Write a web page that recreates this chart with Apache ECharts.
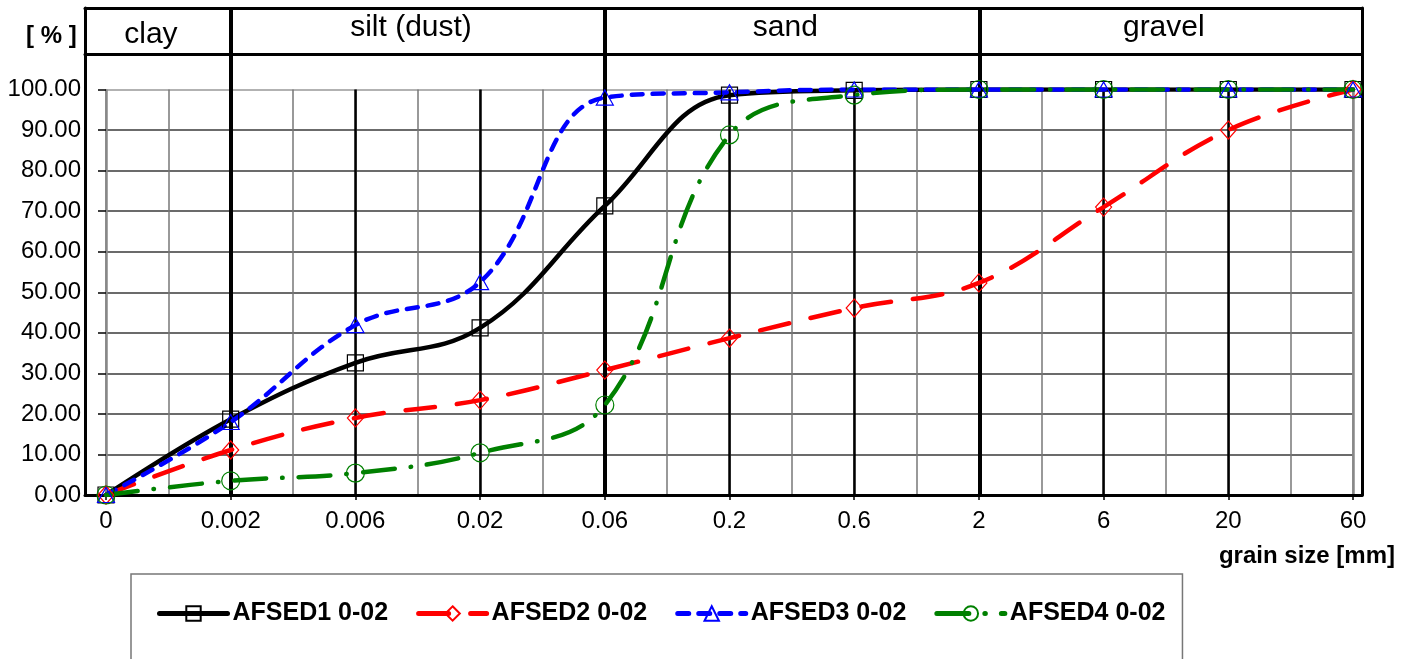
<!DOCTYPE html>
<html lang="en">
<head>
    <meta charset="UTF-8">
    <script src="https://cdn.jsdelivr.net/npm/echarts@6/dist/echarts.min.js"></script>
    <style>
        html, body { margin: 0; padding: 0; background: #fff; }
        #chart { width: 1420px; height: 659px; }
    </style>
</head>
<body>
<div id="chart"></div>
<script>
    // grain sizes [mm] on the x axis (equally spaced categories)
    var sizes = ['0', '0.002', '0.006', '0.02', '0.06', '0.2', '0.6', '2', '6', '20', '60'];
    // passing percentages
    var afsed1 = [0, 18.7, 32.6, 41.2, 71.3, 98.6, 99.8, 100, 100, 100, 100];
    var afsed2 = [0, 11.1, 19.0, 23.4, 30.8, 38.7, 46.1, 52.3, 71.0, 90.0, 100];
    var afsed3 = [0, 18.0, 41.9, 52.5, 98.0, 99.3, 100, 100, 100, 100, 100];
    var afsed4 = [0, 3.5, 5.4, 10.4, 22.2, 88.8, 98.6, 100, 100, 100, 100];
    // soil classes and the sizes where they meet
    var zones = ['clay', 'silt (dust)', 'sand', 'gravel'];
    var zoneBounds = ['0.002', '0.06', '2'];

    var font = 'Liberation Sans, Arial, sans-serif';
    // frame runs a bit past the first / last category
    var xMin = -0.168, xMax = 10.064;

    var chart = echarts.init(document.getElementById('chart'));

    var boundIdx = zoneBounds.map(function (b) { return sizes.indexOf(b); });
    var edges = [xMin].concat(boundIdx, [xMax]);
    var zoneData = zones.map(function (z, i) {
        return {
            name: z,
            value: [(edges[i] + edges[i + 1]) / 2, 0.5],
            label: { offset: [-7, i === 0 ? 4 : -3] }
        };
    });

    var frameLine = { show: true, onZero: false, lineStyle: { color: '#000', width: 3 } };
    function frameAxis(grid, pos, type) {
        return {
            type: 'value', gridIndex: grid, position: pos,
            min: type === 'x' ? xMin : 0, max: type === 'x' ? xMax : 1,
            axisLine: frameLine, axisTick: { show: false }, axisLabel: { show: false },
            splitLine: { show: false }
        };
    }

    var catColors = sizes.map(function (s, i) {
        return (i === 0 || i === sizes.length - 1) ? '#888' : '#000';
    });
    var hColors = sizes.map(function (s, i) {
        return i === 0 ? '#000' : (i === sizes.length - 1 ? '#999' : '#3a3a3a');
    });

    function lineSeries(name, data, color, dash, symbol, size) {
        return {
            name: name, type: 'line', xAxisIndex: 4, yAxisIndex: 3,
            data: data, smooth: 0.4, z: 5,
            symbol: symbol, symbolSize: size,
            lineStyle: { color: color, width: 4.5, type: dash, cap: 'round' },
            itemStyle: { color: 'rgba(0,0,0,0)', borderColor: color, borderWidth: 1.2 }
        };
    }

    var option = {
        animation: false,
        title: [
            { text: '[ % ]', left: 21, top: 19, textStyle: { fontFamily: font, fontSize: 24, fontWeight: 'bold', color: '#000' } },
            { text: 'grain size [mm]', right: 20, top: 539, textStyle: { fontFamily: font, fontSize: 24, fontWeight: 'bold', color: '#000' } }
        ],
        legend: {
            left: 131, top: 574,
            padding: [27, 17, 60, 26],
            borderColor: '#777', borderWidth: 1.5,
            itemWidth: 68, itemHeight: 18, itemGap: 28,
            lineStyle: { width: 5 },
            textStyle: { fontFamily: font, fontSize: 25, fontWeight: 'bold', color: '#000' },
            data: ['AFSED1 0-02', 'AFSED2 0-02', 'AFSED3 0-02', 'AFSED4 0-02']
        },
        grid: [
            { left: 85, right: 58, top: 8, bottom: 164 },
            { left: 85, right: 58, top: 8, height: 46 },
            { left: 106, right: 67, top: 89.5, bottom: 164 }
        ],
        xAxis: [
            frameAxis(0, 'bottom', 'x'),
            frameAxis(0, 'top', 'x'),
            frameAxis(1, 'bottom', 'x'),
            {
                type: 'value', gridIndex: 2, position: 'top', min: 0, max: sizes.length - 1, interval: 0.5,
                axisLine: { show: false }, axisTick: { show: false }, axisLabel: { show: false },
                splitLine: { show: true, lineStyle: { color: '#777', width: 1.5 } }
            },
            {
                type: 'category', gridIndex: 2, position: 'bottom', data: sizes, boundaryGap: false,
                axisLine: { show: false },
                axisTick: { show: true, length: 5, interval: 0, lineStyle: { color: '#000', width: 1.5 } },
                axisLabel: { interval: 0, margin: 14, fontFamily: font, fontSize: 24, color: '#000' },
                splitLine: { show: true, interval: 0, lineStyle: { color: catColors, width: 2.5 } }
            }
        ],
        yAxis: [
            frameAxis(0, 'left', 'y'),
            frameAxis(0, 'right', 'y'),
            {
                type: 'value', gridIndex: 1, min: 0, max: 1, show: false
            },
            {
                type: 'value', gridIndex: 2, min: 0, max: 100, interval: 10,
                axisLine: { show: false },
                axisTick: { show: true, length: 8, lineStyle: { color: '#000', width: 1.5 } },
                axisLabel: {
                    margin: 25, fontFamily: font, fontSize: 24, color: '#000',
                    formatter: function (v) { return v.toFixed(2); }
                },
                splitLine: { show: true, lineStyle: { color: hColors, width: 1.5 } }
            }
        ],
        series: [
            {
                type: 'line', xAxisIndex: 0, yAxisIndex: 0, data: [], silent: true,
                markLine: {
                    silent: true, symbol: 'none', label: { show: false },
                    lineStyle: { color: '#000', width: 4, type: 'solid' },
                    data: boundIdx.map(function (i) { return { xAxis: i }; })
                }
            },
            {
                type: 'scatter', xAxisIndex: 2, yAxisIndex: 2, symbolSize: 0, silent: true,
                data: zoneData,
                itemStyle: { opacity: 1 },
                label: {
                    show: true, position: 'inside', formatter: '{b}',
                    fontFamily: font, fontSize: 30, color: '#000', opacity: 1,
                    textBorderWidth: 0, textShadowBlur: 0
                }
            },
            lineSeries('AFSED1 0-02', afsed1, '#000', 'solid', 'rect', [16, 16]),
            lineSeries('AFSED2 0-02', afsed2, '#ff0000', [30, 22], 'diamond', [16, 18]),
            lineSeries('AFSED3 0-02', afsed3, '#0000ff', [11, 10], 'triangle', [17, 15]),
            lineSeries('AFSED4 0-02', afsed4, '#008000', [32, 16, 0.5, 16], 'circle', 18)
        ]
    };

    chart.setOption(option);
</script>
</body>
</html>
